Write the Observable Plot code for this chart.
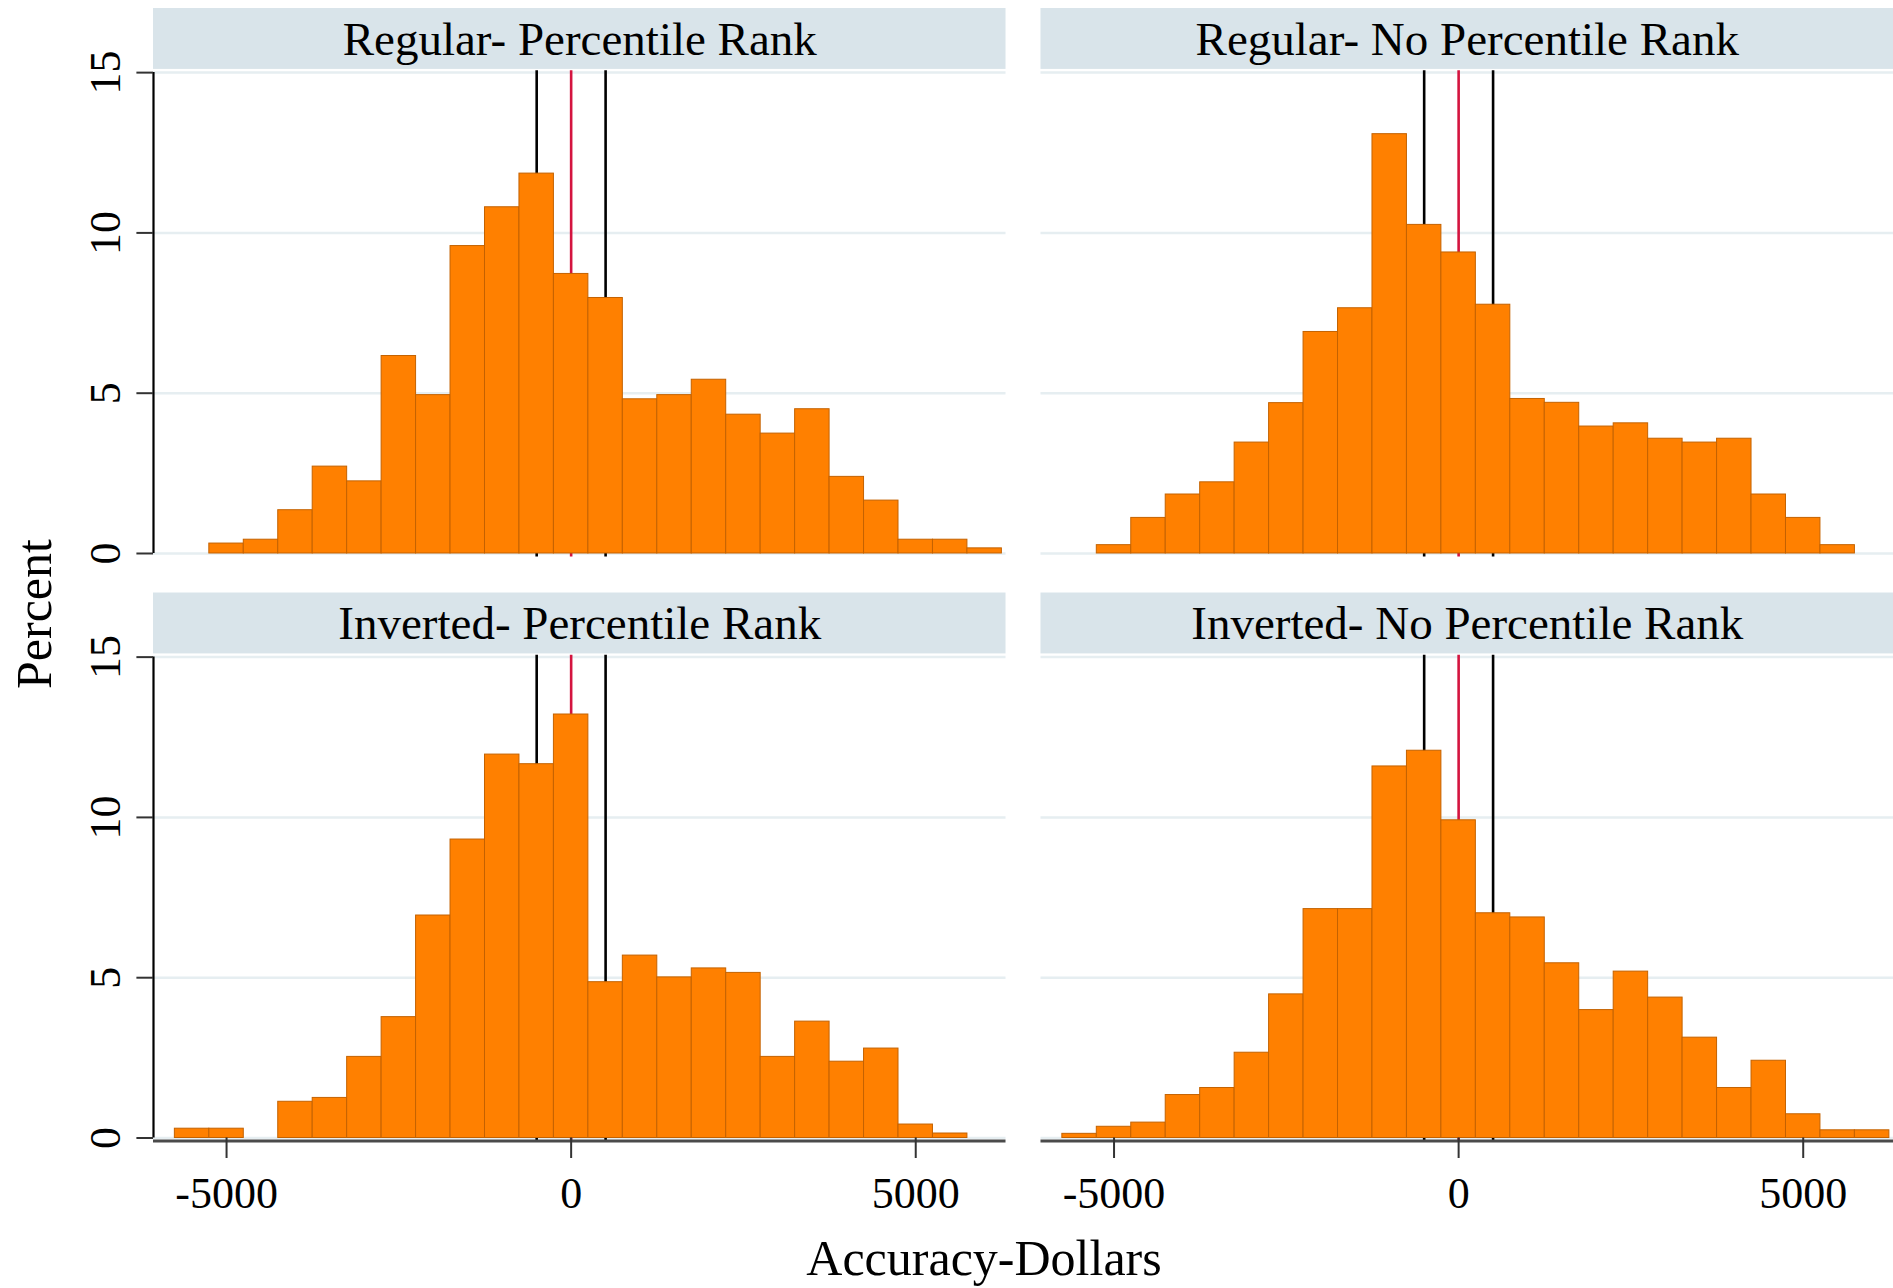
<!DOCTYPE html>
<html>
<head>
<meta charset="utf-8">
<script src="https://cdn.jsdelivr.net/npm/d3@7"></script>
<script src="https://cdn.jsdelivr.net/npm/@observablehq/plot@0.6"></script>
<style>
  html, body { margin: 0; padding: 0; background: #ffffff; }
  svg { display: block; }
</style>
</head>
<body>
<div id="chart"></div>
<script>
// ---------- data ----------
const panelTitles = [
  "Regular- Percentile Rank",
  "Regular- No Percentile Rank",
  "Inverted- Percentile Rank",
  "Inverted- No Percentile Rank"
];
const panelCols = ["left", "right", "left", "right"];
const panelRows = ["top", "top", "bottom", "bottom"];

// histogram bin centres (dollars), bin width 500
const binCenters = [-5500, -5000, -4500, -4000, -3500, -3000, -2500, -2000, -1500, -1000, -500, 0,
                    500, 1000, 1500, 2000, 2500, 3000, 3500, 4000, 4500, 5000, 5500, 6000];
const binWidth = 500;

// percent of observations per bin (0 = empty bin)
const regularPercentile   = [0, 0.31, 0.43, 1.35, 2.71, 2.25, 6.16, 4.94, 9.59, 10.80, 11.85, 8.72,
                             7.97, 4.81, 4.94, 5.42, 4.33, 3.74, 4.50, 2.39, 1.65, 0.43, 0.43, 0.16];
const regularNoPercentile = [0, 0.26, 1.11, 1.84, 2.22, 3.46, 4.69, 6.91, 7.65, 13.08, 10.25, 9.39,
                             7.76, 4.82, 4.70, 3.96, 4.06, 3.58, 3.46, 3.58, 1.84, 1.11, 0.26, 0];
const invertedPercentile  = [0.29, 0.29, 0, 1.13, 1.25, 2.53, 3.77, 6.94, 9.31, 11.96, 11.66, 13.21,
                             4.86, 5.69, 5.01, 5.29, 5.15, 2.53, 3.63, 2.38, 2.79, 0.42, 0.14, 0];
const invertedNoPercentile= [0.13, 0.35, 0.48, 1.34, 1.56, 2.66, 4.48, 7.14, 7.14, 11.59, 12.08, 9.91,
                             7.01, 6.88, 5.45, 3.99, 5.19, 4.38, 3.13, 1.56, 2.41, 0.74, 0.24, 0.24];

// reference lines
const refLinesBlack = [-500, 500];
const refLinesRed = [0];

// axes
const yTicks = [0, 5, 10, 15];
const yTickLabels = ["0", "5", "10", "15"];
const xTicks = [-5000, 0, 5000];
const xTickLabels = ["-5000", "0", "5000"];
const xDomain = [-6060, 6310];
const yDomain = [0, 17];
const yTitle = "Percent";
const xTitle = "Accuracy-Dollars";

// ---------- build tables ----------
const series = [regularPercentile, regularNoPercentile, invertedPercentile, invertedNoPercentile];
const panels = panelTitles.map((t, i) => ({title: t, col: panelCols[i], row: panelRows[i]}));
const bins = [];
series.forEach((vals, i) => {
  vals.forEach((v, j) => {
    if (v > 0) bins.push({col: panelCols[i], row: panelRows[i], x: binCenters[j], pct: v});
  });
});
const leftPanels = panels.filter(p => p.col === "left");
const bottomPanels = panels.filter(p => p.row === "bottom");
const yTickData = leftPanels.flatMap(p => yTicks.map((v, k) => ({col: p.col, row: p.row, v, label: yTickLabels[k]})));
const xTickData = bottomPanels.flatMap(p => xTicks.map((v, k) => ({col: p.col, row: p.row, v, label: xTickLabels[k]})));

const FONT = "'Liberation Serif', 'Times New Roman', serif";

const chart = Plot.plot({
  width: 1893,
  height: 1288,
  marginLeft: 153,
  marginRight: 0,
  marginTop: 8,
  marginBottom: 150.5,
  style: {fontFamily: FONT, background: "#ffffff", color: "#000000", fontSize: "44px"},
  x: {domain: xDomain, axis: null},
  y: {domain: yDomain, axis: null},
  fx: {domain: ["left", "right"], paddingInner: 0.0394, paddingOuter: 0, round: false, axis: null},
  fy: {domain: ["top", "bottom"], paddingInner: 0.0676, paddingOuter: 0, round: false, axis: null},
  marks: [
    // strips
    Plot.rect(panels, {x1: xDomain[0], x2: xDomain[1], y1: 15.1, y2: 17, fx: "col", fy: "row", fill: "#d9e4ea"}),
    // gridlines
    Plot.ruleY(yTicks, {stroke: "#e6eef1", strokeWidth: 2.5}),
    // reference lines (behind the bars)
    Plot.ruleX(refLinesBlack, {y1: -0.11, y2: 15.06, stroke: "#000000", strokeWidth: 2.6}),
    Plot.ruleX(refLinesRed, {y1: -0.11, y2: 15.06, stroke: "#d4143f", strokeWidth: 2.6}),
    // bars
    Plot.rect(bins, {
      x1: d => d.x - binWidth / 2,
      x2: d => d.x + binWidth / 2,
      y1: 0,
      y2: "pct",
      fx: "col", fy: "row",
      fill: "#ff8000",
      stroke: "#c46200",
      strokeWidth: 1
    }),
    // y axis line (left column)
    Plot.ruleX(leftPanels, {x: xDomain[0], y1: 0, y2: 15, fx: "col", fy: "row", stroke: "#000000", strokeWidth: 2.2}),
    // x axis line (bottom row)
    Plot.ruleY(bottomPanels, {y: 0, dy: 3, fx: "col", fy: "row", stroke: "#4a4a4a", strokeWidth: 3}),
    // y ticks
    Plot.ruleY(yTickData, {y: "v", x1: xDomain[0], x2: xDomain[0], insetLeft: -16.6, fx: "col", fy: "row", stroke: "#333333", strokeWidth: 2}),
    // x ticks
    Plot.ruleX(xTickData, {x: "v", y1: 0, y2: 0, insetBottom: -20.5, fx: "col", fy: "row", stroke: "#333333", strokeWidth: 2}),
    // y tick labels
    Plot.text(yTickData, {
      x: xDomain[0], y: "v", text: "label", rotate: -90, dx: -33.5,
      lineAnchor: "bottom", textAnchor: "middle", fontSize: 44, fill: "#000000",
      fx: "col", fy: "row"
    }),
    // x tick labels
    Plot.text(xTickData, {
      x: "v", y: 0, text: "label", dy: 70, lineAnchor: "bottom", fontSize: 44, fill: "#000000",
      fx: "col", fy: "row"
    }),
    // strip titles
    Plot.text(panels, {
      text: "title", frameAnchor: "top", dy: 46, lineAnchor: "bottom", fontSize: 47, fill: "#000000",
      fx: "col", fy: "row"
    })
  ]
});

const svg = d3.select(chart);
svg.append("text")
  .attr("transform", "translate(50.5,614) rotate(-90)")
  .attr("text-anchor", "middle")
  .attr("font-family", FONT)
  .attr("font-size", 50)
  .attr("fill", "#000000")
  .text(yTitle);
svg.append("text")
  .attr("x", 984)
  .attr("y", 1275)
  .attr("text-anchor", "middle")
  .attr("font-family", FONT)
  .attr("font-size", 50)
  .attr("fill", "#000000")
  .text(xTitle);

document.getElementById("chart").appendChild(chart);
</script>
</body>
</html>
